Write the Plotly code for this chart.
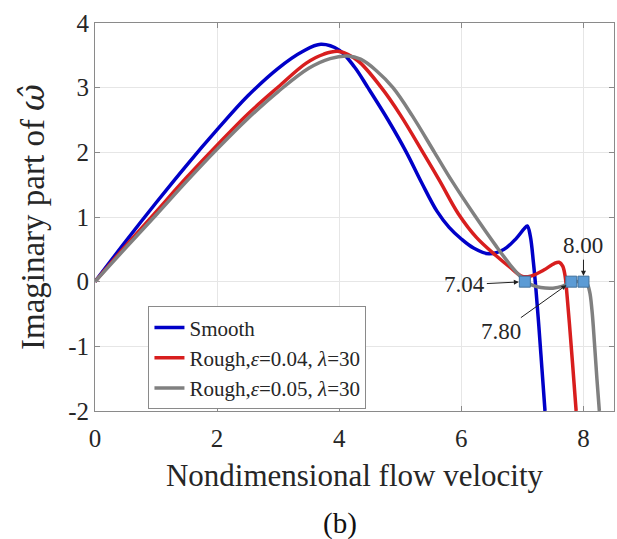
import plotly.graph_objects as go

# ---- data ----
smooth_x = [0, 0.5, 1.0, 1.5, 2.0, 2.5, 3.0, 3.4, 3.7, 4.0, 4.25, 4.47, 4.8, 5.1, 5.35, 5.6, 5.8, 6.0, 6.2, 6.45, 6.7, 6.9, 7.03, 7.08, 7.13, 7.18, 7.22, 7.27, 7.32, 7.37]
smooth_y = [0, 0.62, 1.22, 1.80, 2.35, 2.87, 3.30, 3.56, 3.67, 3.58, 3.32, 3.00, 2.50, 2.00, 1.53, 1.09, 0.84, 0.66, 0.52, 0.43, 0.50, 0.67, 0.82, 0.86, 0.70, 0.30, -0.10, -0.70, -1.35, -2.0]

rough04_x = [0, 0.5, 1.0, 1.5, 2.0, 2.5, 3.0, 3.46, 3.75, 4.0, 4.3, 4.69, 5.0, 5.37, 5.65, 5.95, 6.25, 6.57, 6.8, 7.0, 7.15, 7.35, 7.52, 7.6, 7.66, 7.7, 7.73, 7.77, 7.82, 7.88]
rough04_y = [0, 0.55, 1.08, 1.61, 2.11, 2.59, 3.01, 3.38, 3.52, 3.56, 3.42, 3.00, 2.58, 2.00, 1.55, 1.05, 0.68, 0.40, 0.22, 0.08, 0.09, 0.18, 0.28, 0.30, 0.24, 0.08, -0.20, -0.65, -1.25, -2.0]

rough05_x = [0, 0.5, 1.0, 1.5, 2.0, 2.5, 3.0, 3.5, 3.85, 4.14, 4.35, 4.6, 4.88, 5.2, 5.56, 5.85, 6.2, 6.57, 6.85, 7.0, 7.15, 7.3, 7.5, 7.66, 7.8, 7.95, 8.05, 8.1, 8.14, 8.18, 8.22, 8.26]
rough05_y = [0, 0.52, 1.03, 1.55, 2.05, 2.52, 2.94, 3.30, 3.45, 3.49, 3.44, 3.27, 3.00, 2.56, 2.00, 1.55, 1.05, 0.55, 0.20, 0.05, -0.05, -0.09, -0.10, -0.07, -0.01, 0.0, -0.02, -0.15, -0.45, -0.95, -1.50, -2.0]

marker_x = [7.04, 7.80, 8.00]
marker_y = [0, 0, 0]
marker_labels = ["7.04", "7.80", "8.00"]

x_ticks = [0, 2, 4, 6, 8]
y_ticks = [-2, -1, 0, 1, 2, 3, 4]
y_ticktext = ["-2", "-1", "0", "1", "2", "3", "4"]

FONT = "Liberation Serif, Times New Roman, serif"
TXT = "#262626"

fig = go.Figure()
series = [
    ("Smooth", smooth_x, smooth_y, "#0000c8"),
    ("Rough,<i>ε</i>=0.04, <i>λ</i>=30", rough04_x, rough04_y, "#d81e1e"),
    ("Rough,<i>ε</i>=0.05, <i>λ</i>=30", rough05_x, rough05_y, "#808080"),
]
for name, xs, ys, col in series:
    fig.add_trace(go.Scatter(x=xs, y=ys, mode="lines", name=name,
                             line=dict(color=col, width=3.5, shape="spline", smoothing=1.0)))

fig.add_trace(go.Scatter(x=marker_x, y=marker_y, mode="markers", showlegend=False,
                         marker=dict(symbol="square", size=11, color="#5b9bd5",
                                     line=dict(color="#41719c", width=1))))

offsets = {"7.04": (-60, 3), "7.80": (-70, 50), "8.00": (0, -36)}
for xv, yv, lab in zip(marker_x, marker_y, marker_labels):
    ax, ay = offsets[lab]
    fig.add_annotation(x=xv, y=yv, text=lab, showarrow=True, ax=ax, ay=ay,
                       arrowhead=2, arrowsize=1, arrowwidth=1, arrowcolor="#202020",
                       standoff=6, font=dict(family=FONT, size=23, color=TXT))

fig.add_annotation(text="(b)", xref="paper", yref="paper", x=0.472, y=-0.29,
                   xanchor="center", yanchor="middle", showarrow=False,
                   font=dict(family=FONT, size=29, color="#111111"))

axis_common = dict(showline=True, linecolor="#8a8a8a", linewidth=1, mirror="ticks",
                   ticks="inside", ticklen=5, tickcolor="#8a8a8a",
                   showgrid=True, gridcolor="#e6e6e6", gridwidth=1, zeroline=False,
                   tickfont=dict(family=FONT, size=25, color=TXT))

fig.update_xaxes(range=[0, 8.5], tickvals=x_ticks, ticklabelstandoff=5, **axis_common,
                 title=dict(text="Nondimensional flow velocity", standoff=13,
                            font=dict(family=FONT, size=31, color=TXT)))
fig.update_yaxes(range=[-2, 4], tickvals=y_ticks, ticktext=y_ticktext, **axis_common,
                 title=dict(text="Imaginary part of <span style=\"font-family:DejaVu Serif\"><i>ω̂</i></span>",
                            standoff=13, font=dict(family=FONT, size=33, color=TXT)))

fig.update_layout(
    width=617, height=539,
    margin=dict(l=95, r=3, t=23, b=128),
    paper_bgcolor="white", plot_bgcolor="white",
    legend=dict(x=0.103, y=0.27, xanchor="left", yanchor="top",
                bgcolor="white", bordercolor="#8a8a8a", borderwidth=1,
                font=dict(family=FONT, size=21, color=TXT),
                itemwidth=30, tracegroupgap=0),
)

fig.write_html("out.html")
